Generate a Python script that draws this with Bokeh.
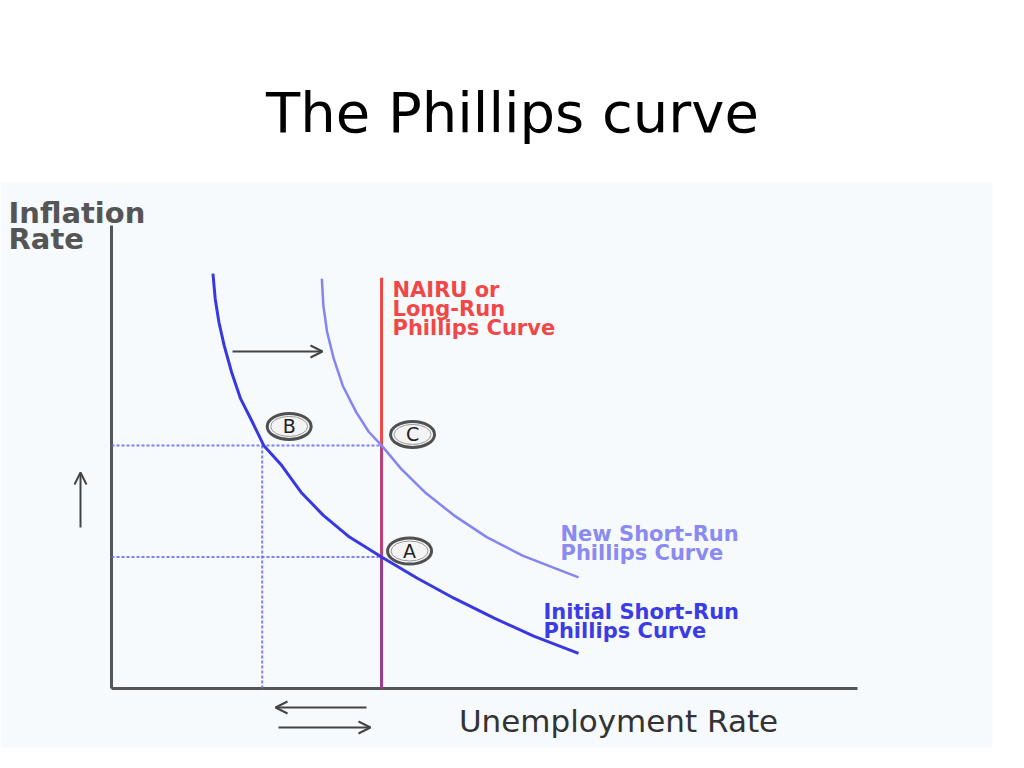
from bokeh.plotting import figure
from bokeh.models import Range1d, Arrow, OpenHead, BoxAnnotation
from bokeh.core.properties import value
from bokeh.embed import file_html
from bokeh.resources import INLINE

# ---- data (axis runs 0..10 on both scales) ----
init_u  = [1.36, 1.39, 1.44, 1.51, 1.61, 1.73, 1.89, 2.04, 2.28, 2.54, 2.84, 3.19,
           3.62, 4.10, 4.59, 5.13, 5.66, 6.26]
init_pi = [8.96, 8.42, 7.91, 7.41, 6.83, 6.26, 5.75, 5.25, 4.82, 4.24, 3.74, 3.27,
           2.84, 2.38, 1.95, 1.52, 1.13, 0.76]
new_u   = [2.82, 2.84, 2.89, 2.98, 3.10, 3.28, 3.45, 3.62, 3.88, 4.20, 4.59, 5.03, 5.51, 6.26]
new_pi  = [8.85, 8.27, 7.70, 7.12, 6.54, 5.97, 5.54, 5.25, 4.75, 4.24, 3.74, 3.27, 2.87, 2.40]
nairu = 3.62
nairu_top = 8.87
point_names = ["A", "B", "C"]
point_u  = [3.62, 2.02, 3.62]
point_pi = [2.84, 5.25, 5.25]
axis_max = 10.0

# ---- layout: page pixel <-> data mapping ----
OX, OY = 111, 688          # page position of the origin
SX, SY = 74.6, 46.3        # px per unit
W, H = 1008, 752
def X(px): return (px - OX) / SX
def Y(py): return (OY - py) / SY

p = figure(width=W, height=H, output_backend="svg", toolbar_location=None,
           x_range=Range1d(X(0), X(W)), y_range=Range1d(Y(H), Y(0)),
           min_border=0, x_axis_type=None, y_axis_type=None)
p.grid.visible = False
p.outline_line_color = None
p.background_fill_color = "white"
p.border_fill_color = "white"

# panel background
p.add_layout(BoxAnnotation(left=X(0), right=X(992), top=Y(182), bottom=Y(747),
                           fill_color="#f6fafd", fill_alpha=1, line_color=None, level="underlay"))

# axes
p.line([0, 0], [0, axis_max], line_color="#555555", line_width=3)
p.line([0, axis_max], [0, 0], line_color="#555555", line_width=3)

# guide lines
blue_dot = dict(line_color="#6a6aee", line_width=2, line_dash="3 2", line_alpha=0.85)
for pi in (point_pi[0], point_pi[1]):
    p.line([0, nairu], [pi, pi], **blue_dot)
p.line([point_u[1], point_u[1]], [0, point_pi[1]], **blue_dot)

# long-run Phillips curve (NAIRU)
p.line([nairu, nairu], [0, nairu_top], line_color="#f04646", line_width=3)
p.line([nairu, nairu], [0, point_pi[2]], line_color="#4a3ad0", line_width=3, line_alpha=0.35)
p.line([nairu, nairu], [0, point_pi[0]], line_color="#4a3ad0", line_width=3, line_alpha=0.3)

# short-run curves
p.line(new_u, new_pi, line_color="#8484f2", line_width=2.5, line_join="round")
p.line(init_u, init_pi, line_color="#3838e2", line_width=3, line_join="round")

# circled point labels
off_x = [28, 27, 31]
off_y = [6, 19, 11]
lx = [u + dx / SX for u, dx in zip(point_u, off_x)]
ly = [v + dy / SY for v, dy in zip(point_pi, off_y)]
p.ellipse(x=lx, y=ly, width=44, height=26, width_units="screen", height_units="screen",
          fill_color="#f4f4f4", line_color="#505050", line_width=3)
p.ellipse(x=lx, y=ly, width=37, height=20, width_units="screen", height_units="screen",
          fill_color=None, line_color="#9a9a9a", line_width=1)
p.text(x=lx, y=ly, text=point_names, text_font=value("DejaVu Sans"), text_font_size="19px",
       text_color="#222222", text_align="center", text_baseline="middle")

# arrows
head = dict(size=12, line_width=2, line_color="#444444")
for xs, ys, xe, ye in [(232, 351, 322, 351), (80, 527, 80, 472),
                       (366, 707, 275, 707), (278, 727, 370, 727)]:
    p.add_layout(Arrow(end=OpenHead(**head), x_start=X(xs), y_start=Y(ys), x_end=X(xe), y_end=Y(ye),
                       line_color="#444444", line_width=2))

def txt(x, y, s, size, color, font="DejaVu Sans", style="normal", align="left"):
    p.text(x=[x], y=[y], text=[s], text_font=value(font), text_font_size=size,
           text_font_style=style, text_color=color, text_align=align, text_baseline="alphabetic")

# title
txt(X(512), Y(112), "The Phillips curve", "56px", "#000000", align="center")
# axis titles
txt(X(8), Y(212), "Inflation", "29px", "#555555", style="bold")
txt(X(8), Y(238), "Rate", "29px", "#555555", style="bold")
txt(X(618), Y(720), "Unemployment Rate", "31px", "#333333", align="center")
# curve labels
for s, b in [("NAIRU or", 289), ("Long-Run", 308), ("Phillips Curve", 327)]:
    txt(X(392), Y(b), s, "21px", "#f04848", style="bold")
for s, b in [("New Short-Run", 533), ("Phillips Curve", 552)]:
    txt(X(560), Y(b), s, "21px", "#8a8af2", style="bold")
for s, b in [("Initial Short-Run", 611), ("Phillips Curve", 630)]:
    txt(X(543), Y(b), s, "21px", "#3c3ce6", style="bold")

open("out.html", "w").write(file_html(p, INLINE))
